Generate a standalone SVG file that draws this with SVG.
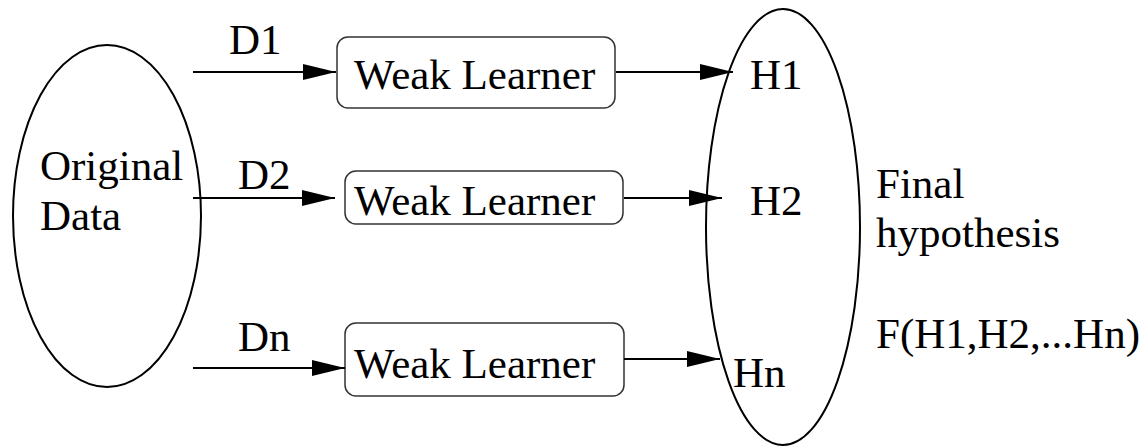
<svg xmlns="http://www.w3.org/2000/svg" width="1144" height="447" viewBox="0 0 1144 447">
<style>
text{font-family:'Liberation Serif','Times New Roman',Times,'DejaVu Serif',serif;font-size:43px;fill:#000}
.box{fill:#fff;stroke:#333;stroke-width:1.5}
.ell{fill:none;stroke:#000;stroke-width:2}
.conn{stroke:#000;stroke-width:2;fill:none}
</style>
<defs>
<marker id="ah" markerUnits="userSpaceOnUse" markerWidth="34" markerHeight="18" refX="33" refY="8" orient="auto">
<path d="M0,0 L33,8 L0,16 Z" fill="#000"/>
</marker>
</defs>
<rect width="1144" height="447" fill="#fff"/>
<g id="original">
<ellipse class="ell" cx="107" cy="216" rx="94" ry="171"/>
<text x="40" y="180">Original</text>
<text x="40" y="230">Data</text>
</g>
<g id="final">
<ellipse class="ell" cx="783" cy="227" rx="77" ry="218"/>
<text x="750" y="89">H1</text>
<text x="750" y="215">H2</text>
<text x="733" y="387">Hn</text>
</g>
<g id="wl1">
<rect class="box" x="337" y="37" width="278" height="71" rx="11"/>
<text x="354" y="89">Weak Learner</text>
</g>
<g id="wl2">
<rect class="box" x="345" y="171" width="278" height="53" rx="11"/>
<text x="354" y="215">Weak Learner</text>
</g>
<g id="wl3">
<rect class="box" x="345" y="323" width="279" height="73" rx="11"/>
<text x="354" y="378">Weak Learner</text>
</g>
<g id="label-final">
<text x="876" y="198">Final</text>
<text x="876" y="247">hypothesis</text>
<text x="876" y="348">F(H1,H2,...Hn)</text>
</g>
<g id="connectors">
<line class="conn" x1="193" y1="72" x2="336" y2="72" marker-end="url(#ah)"/>
<line class="conn" x1="193" y1="198" x2="335" y2="198" marker-end="url(#ah)"/>
<line class="conn" x1="193" y1="368" x2="345" y2="368" marker-end="url(#ah)"/>
<line class="conn" x1="616" y1="72" x2="733" y2="72" marker-end="url(#ah)"/>
<line class="conn" x1="624" y1="198" x2="722" y2="198" marker-end="url(#ah)"/>
<line class="conn" x1="624" y1="359" x2="720" y2="359" marker-end="url(#ah)"/>
<text x="229" y="54">D1</text>
<text x="238" y="189">D2</text>
<text x="238" y="351">Dn</text>
</g>
</svg>
